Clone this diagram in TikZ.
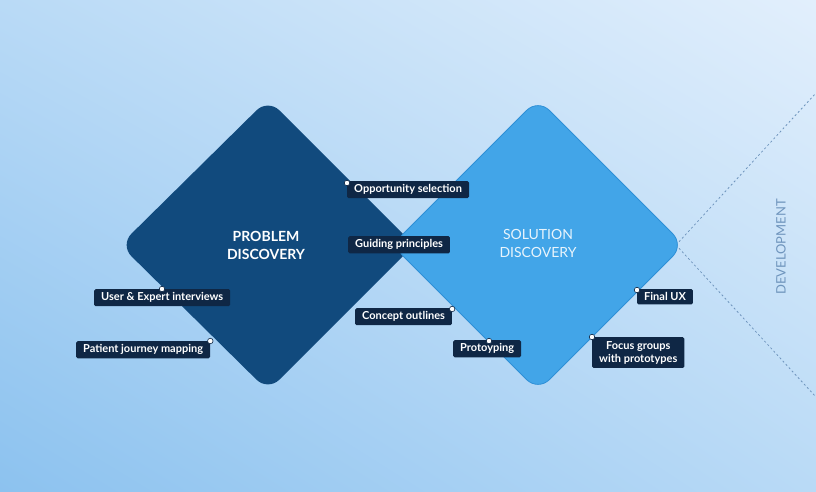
\documentclass[tikz,border=0pt]{standalone}
\usepackage{fontspec}
\setmainfont{Lato}
\usetikzlibrary{calc,shadings}
\definecolor{navy}{HTML}{0F2745}
\definecolor{dkblue}{HTML}{114A7D}
\definecolor{mdblue}{HTML}{42A5E8}
\definecolor{mdedge}{HTML}{2E8FD6}
\definecolor{bgA}{HTML}{E2EFFC}
\definecolor{bgB}{HTML}{8CC2EF}
\definecolor{bgC}{HTML}{B9DAF6}
\definecolor{devcol}{HTML}{6F95BD}
\tikzset{
  lbl/.style={fill=navy, text=white, font=\fontsize{11}{13}\selectfont\bfseries, rounded corners=1.5pt, inner xsep=7pt, inner ysep=3.5pt, align=center},
  pin/.style={circle, fill=white, draw=navy, line width=0.6pt, inner sep=0pt, minimum size=5.5pt},
  title/.style={font=\fontsize{14}{18}\selectfont\bfseries, align=center},
}
\begin{document}
\begin{tikzpicture}[x=1pt,y=-1pt]
\shade[upper left=bgC, upper right=bgA, lower left=bgB, lower right=bgC] (0,0) rectangle (816,492);
\useasboundingbox (0,0) rectangle (816,492);
% dashed development lines
\coordinate (rv) at (676,245);
\coordinate (dt) at (816,93);
\coordinate (db) at (816,397);
\draw[devcol, dashed, dash pattern=on 2pt off 2.5pt, line width=0.8pt] (rv) -- (dt);
\draw[devcol, dashed, dash pattern=on 2pt off 2.5pt, line width=0.8pt] (rv) -- (db);
% diamonds
\fill[dkblue, rounded corners=16pt] (268,99) -- (414,245) -- (268,391) -- (120,245) -- cycle;
\filldraw[fill=mdblue, draw=mdedge, line width=0.8pt, rounded corners=16pt] (538,99) -- (684,245) -- (538,391) -- (392,245) -- cycle;
\node[title, text=white] (pd) at (266,245) {PROBLEM\\DISCOVERY};
\node[title, text=white!88!mdblue, font=\fontsize{14}{18}\selectfont] (sd) at (538,243) {SOLUTION\\DISCOVERY};
\node[rotate=90, text=devcol, font=\fontsize{13}{15}\selectfont] (dev) at (781,247) {DEVELOPMENT};
% labels
\node[lbl, anchor=north west] (l1) at (347,181) {Opportunity selection};
\node[pin] at ($(l1.north west)+(0,2)$) {};
\node[lbl, anchor=north west] (l2) at (348,236) {Guiding principles};
\node[lbl, anchor=north west] (l3) at (94,289) {User \& Expert interviews};
\node[pin] at (162,289) {};
\node[lbl, anchor=north west] (l4) at (76,341) {Patient journey mapping};
\node[pin] at (l4.north east) {};
\node[lbl, anchor=north west] (l5) at (355,308) {Concept outlines};
\node[pin] at ($(l5.north east)+(0,1)$) {};
\node[lbl, anchor=north west] (l6) at (453,340) {Protoyping};
\node[pin] at (489,341) {};
\node[lbl, anchor=north west] (l7) at (637,289) {Final UX};
\node[pin] at ($(l7.north west)+(0,1)$) {};
\node[lbl, anchor=north west, inner ysep=4pt] (l8) at (592,337) {Focus groups\\with prototypes};
\node[pin] at (l8.north west) {};
\end{tikzpicture}
\end{document}
